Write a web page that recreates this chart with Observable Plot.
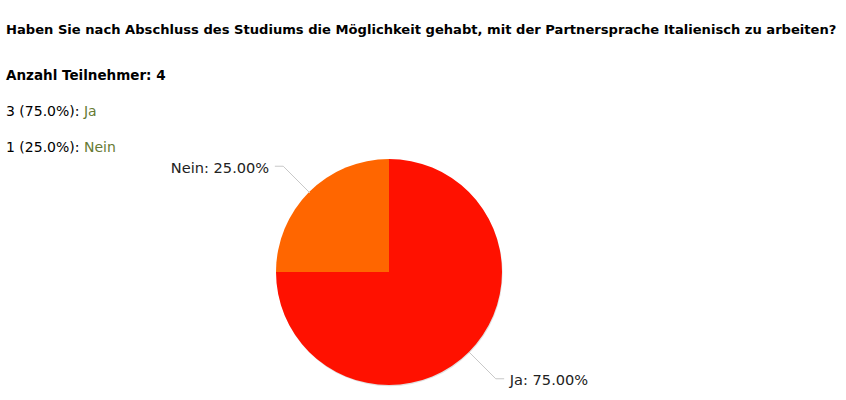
<!DOCTYPE html>
<html><head><meta charset="utf-8">
<script src="https://cdn.jsdelivr.net/npm/d3@7"></script>
<script src="https://cdn.jsdelivr.net/npm/@observablehq/plot@0.6"></script>
<style>
body{margin:0;background:#fff;font-family:"DejaVu Sans",Verdana,sans-serif;color:#000;}
#wrap{position:relative;width:846px;height:400px;overflow:hidden;}
.t{position:absolute;left:6px;white-space:nowrap;font-size:14px;}
.b{font-weight:bold;}
.a{color:#667a33;}
#chart{position:absolute;left:0;top:155px;}
</style></head>
<body><div id="wrap">
<div class="t b" id="title" style="top:22px;font-size:13.1px"></div>
<div class="t b" id="count" style="top:67px;font-size:13.5px"></div>
<div id="legend"></div>
<div id="chart"></div>
</div>
<script>
const title = "Haben Sie nach Abschluss des Studiums die Möglichkeit gehabt, mit der Partnersprache Italienisch zu arbeiten?";
const categories = ["Ja", "Nein"];
const counts = [3, 1];
const colors = ["#ff1100", "#ff6600"];

const total = d3.sum(counts);
document.getElementById("title").textContent = title;
document.getElementById("count").textContent = "Anzahl Teilnehmer: " + total;
const legend = document.getElementById("legend");
categories.forEach((c, i) => {
  const d = document.createElement("div");
  d.className = "t";
  d.style.top = (103 + i * 36) + "px";
  d.innerHTML = `${counts[i]} (${(counts[i] / total * 100).toFixed(1)}%): <span class="a">${c}</span>`;
  legend.appendChild(d);
});

const data = categories.map((c, i) => ({category: c, value: counts[i], color: colors[i]}));
const arcs = d3.pie().sort(null).value(d => d.value)(data);

const W = 846, H = 245, R = 113, CX = 389, CY = 117;
// label geometry in unit-radius coordinates (y up)
const labels = arcs.map(a => {
  const m = (a.startAngle + a.endAngle) / 2;
  const sx = Math.sin(m), sy = Math.cos(m);
  const ex = sx * 1.33, ey = sy * 1.33;
  const side = sx >= 0 ? 1 : -1;
  const hx = ex + side * 8 / R;
  return {
    label: `${a.data.category}: ${(a.data.value / total * 100).toFixed(2)}%`,
    side, points: [[sx, sy], [ex, ey], [hx, ey]], lx: hx + side * 6 / R, ly: ey
  };
});
const leader = labels.flatMap((l, i) => l.points.map(p => ({x: p[0], y: p[1], k: i})));

const pieMark = (index, scales, values, dims) => {
  const cx = scales.x(0), cy = scales.y(0), r = scales.x(1) - scales.x(0);
  const g = d3.create("svg:g").attr("transform", `translate(${cx},${cy})`);
  const arc = d3.arc().innerRadius(0).outerRadius(r);
  g.append("g").attr("transform", "translate(0.6,1.2)")
    .selectAll("path").data(arcs).join("path")
    .attr("d", arc).attr("fill", "#000").attr("fill-opacity", 0.12);
  g.selectAll("path.s").data(arcs).join("path").attr("class", "s")
    .attr("d", arc).attr("fill", d => d.data.color);
  return g.node();
};

const chart = Plot.plot({
  width: W, height: H,
  margin: 0,
  x: {domain: [-CX / R, (W - CX) / R], axis: null},
  y: {domain: [-(H - CY) / R, CY / R], axis: null},
  style: {fontFamily: "'DejaVu Sans', Verdana, sans-serif", background: "#fff"},
  marks: [
    pieMark,
    Plot.line(leader, {x: "x", y: "y", z: "k", stroke: "#c8c8c8", strokeWidth: 1}),
    Plot.text(labels.filter(l => l.side < 0), {x: "lx", y: "ly", text: "label", textAnchor: "end", fontSize: 14.6, dy: 2, fill: "#222"}),
    Plot.text(labels.filter(l => l.side > 0), {x: "lx", y: "ly", text: "label", textAnchor: "start", fontSize: 14.6, dy: 2, fill: "#222"})
  ]
});
document.getElementById("chart").appendChild(chart);
</script>
</body></html>
